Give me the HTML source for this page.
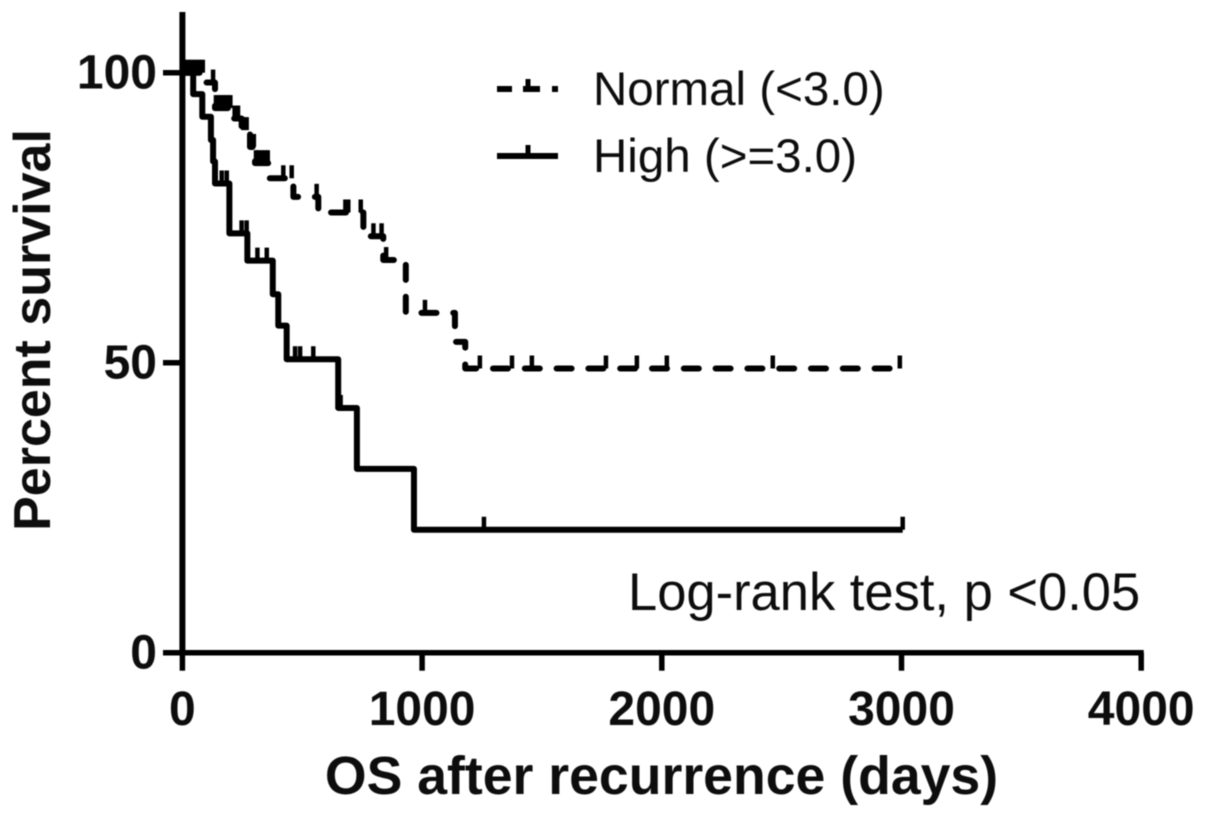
<!DOCTYPE html>
<html lang="en">
<head>
<meta charset="utf-8">
<title>Kaplan-Meier survival chart</title>
<style>
  html, body { margin: 0; padding: 0; background: #fff; }
  body { width: 1205px; height: 816px; overflow: hidden; }
  svg { display: block; }
  text { fill: #111; font-family: "Liberation Sans", Arial, sans-serif; }
  .tick-label { font-weight: 700; font-size: 48px; }
  .axis-title { font-weight: 700; }
  .note { font-size: 47.5px; }
  .annotation { font-size: 52.5px; }
</style>
</head>
<body>
<svg id="chart" width="1205" height="816" viewBox="0 0 1205 816" xmlns="http://www.w3.org/2000/svg">
  <defs>
    <filter id="soft" x="-5%" y="-5%" width="110%" height="110%"><feGaussianBlur stdDeviation="0.6"/></filter>
  </defs>
  <g filter="url(#soft)">
    <g id="axes"></g>
    <g id="series"></g>
    <text class="axis-title" x="661.5" y="794" font-size="53.6" text-anchor="middle">OS after recurrence (days)</text>
    <text class="axis-title" transform="translate(50,330) rotate(-90)" font-size="52" text-anchor="middle">Percent survival</text>
    <g>
      <g>
        <line x1="497" y1="89" x2="512" y2="89" stroke="#000" stroke-width="6"/>
        <line x1="523" y1="89" x2="540" y2="89" stroke="#000" stroke-width="6"/>
        <line x1="528" y1="89" x2="528" y2="79" stroke="#000" stroke-width="5"/>
        <line x1="552" y1="89" x2="558" y2="89" stroke="#000" stroke-width="6"/>
        <text class="note" x="593" y="105">Normal (&lt;3.0)</text>
      </g>
      <g>
        <line x1="497" y1="156" x2="558" y2="156" stroke="#000" stroke-width="6"/>
        <line x1="528" y1="156" x2="528" y2="145" stroke="#000" stroke-width="5"/>
        <text class="note" x="593" y="172">High (&gt;=3.0)</text>
      </g>
    </g>
    <text class="annotation" x="628" y="610">Log-rank test, p &lt;0.05</text>
  </g>
</svg>
<script>
const xTicks = [0, 1000, 2000, 3000, 4000];
const yTicks = [0, 50, 100];

const normalTimes = [87, 136, 212, 247, 282, 303, 358, 463, 567, 755, 838, 932, 1137, 1180];
const normalSurvival = [98.3, 93.9, 92.1, 90.1, 87.2, 84.4, 81.8, 78.6, 75.9, 71.8, 67.7, 58.6, 53.6, 49];
const normalEnd = 3000;
const normalCensored = [10, 25, 40, 55, 70, 85, 128, 140, 150, 160, 170, 180, 190, 200, 218, 232, 254, 268, 289, 298, 307, 317, 331, 345, 356, 421, 456, 560, 680, 692, 744, 797, 831, 850, 1012, 1241, 1375, 1458, 1767, 1896, 2021, 2463, 2993];

const highTimes = [45, 83, 119, 128, 136, 196, 271, 377, 400, 435, 650, 728, 966];
const highSurvival = [96.3, 92.4, 88.4, 84.7, 80.9, 72.3, 67.6, 61.8, 56.4, 50.6, 42.2, 31.7, 21.2];
const highEnd = 3005;
const highCensored = [164, 185, 247, 268, 313, 352, 470, 491, 546, 660, 1258, 3005];

const SVG_NS = 'http://www.w3.org/2000/svg';
const axes = document.getElementById('axes');
const seriesGroup = document.getElementById('series');

function xScale(t) { return 182.4 + t * 0.2397; }
function yScale(s) { return 652.7 - s * 5.8; }

function stepPath(times, values, end) {
  let d = 'M' + xScale(0) + ' ' + yScale(100);
  for (let i = 0; i < times.length; i++) {
    d += 'H' + xScale(times[i]) + 'V' + yScale(values[i]);
  }
  return d + 'H' + xScale(end);
}

function valueAt(times, values, t) {
  let v = 100;
  for (let i = 0; i < times.length; i++) {
    if (t >= times[i]) v = values[i];
  }
  return v;
}

function makeLine(x1, y1, x2, y2, w) {
  const el = document.createElementNS(SVG_NS, 'line');
  el.setAttribute('x1', x1);
  el.setAttribute('y1', y1);
  el.setAttribute('x2', x2);
  el.setAttribute('y2', y2);
  el.setAttribute('stroke', '#000');
  el.setAttribute('stroke-width', w);
  return el;
}

const yAxisLine = makeLine(xScale(0), 12, xScale(0), yScale(0) + 2.5, 6);


axes.appendChild(yAxisLine);

const xAxisLine = makeLine(xScale(0), yScale(0), xScale(4000) + 2.5, yScale(0), 5.5);


axes.appendChild(xAxisLine);

xTicks.forEach(function (t) {
  const tick = makeLine(xScale(t), yScale(0), xScale(t), yScale(0) + 18, 5.5);
  
  
  axes.appendChild(tick);
  const label = document.createElementNS(SVG_NS, 'text');
  
  
  label.setAttribute('class', 'tick-label');
  label.setAttribute('x', xScale(t));
  label.setAttribute('y', 725);
  label.setAttribute('text-anchor', 'middle');
  label.textContent = String(t);
  axes.appendChild(label);
});

yTicks.forEach(function (s) {
  const tick = makeLine(163, yScale(s), xScale(0), yScale(s), 5.5);
  
  
  axes.appendChild(tick);
  const label = document.createElementNS(SVG_NS, 'text');
  
  
  label.setAttribute('class', 'tick-label');
  label.setAttribute('x', 157);
  label.setAttribute('y', yScale(s) + 16);
  label.setAttribute('text-anchor', 'end');
  label.textContent = String(s);
  axes.appendChild(label);
});

const highPath = document.createElementNS(SVG_NS, 'path');


highPath.setAttribute('d', stepPath(highTimes, highSurvival, highEnd));
highPath.setAttribute('fill', 'none');
highPath.setAttribute('stroke', '#000');
highPath.setAttribute('stroke-width', '6');
highPath.setAttribute('stroke-linejoin', 'round');
seriesGroup.appendChild(highPath);

highCensored.forEach(function (t) {
  const y = yScale(valueAt(highTimes, highSurvival, t));
  const tick = makeLine(xScale(t), y, xScale(t), y - 13, 4.5);
  
  
  seriesGroup.appendChild(tick);
});

const normalPath = document.createElementNS(SVG_NS, 'path');


normalPath.setAttribute('d', stepPath(normalTimes, normalSurvival, normalEnd));
normalPath.setAttribute('fill', 'none');
normalPath.setAttribute('stroke', '#000');
normalPath.setAttribute('stroke-width', '6');
normalPath.setAttribute('stroke-linecap', 'round');
normalPath.setAttribute('stroke-linejoin', 'round');
normalPath.setAttribute('stroke-dasharray', '15 16.8');
seriesGroup.appendChild(normalPath);

// Align the dash phase so the flat tail's dashes begin at the same place as the reference.
const tailStart = xScale(normalEnd) - normalPath.getTotalLength();
const dashPeriod = 31.8;
const phaseTarget = 493;
normalPath.setAttribute('stroke-dashoffset', String(((tailStart - phaseTarget) % dashPeriod + dashPeriod) % dashPeriod));

normalCensored.forEach(function (t) {
  const y = yScale(valueAt(normalTimes, normalSurvival, t));
  const tick = makeLine(xScale(t), y, xScale(t), y - 13, 4.5);
  
  
  seriesGroup.appendChild(tick);
});
</script>
</body>
</html>
